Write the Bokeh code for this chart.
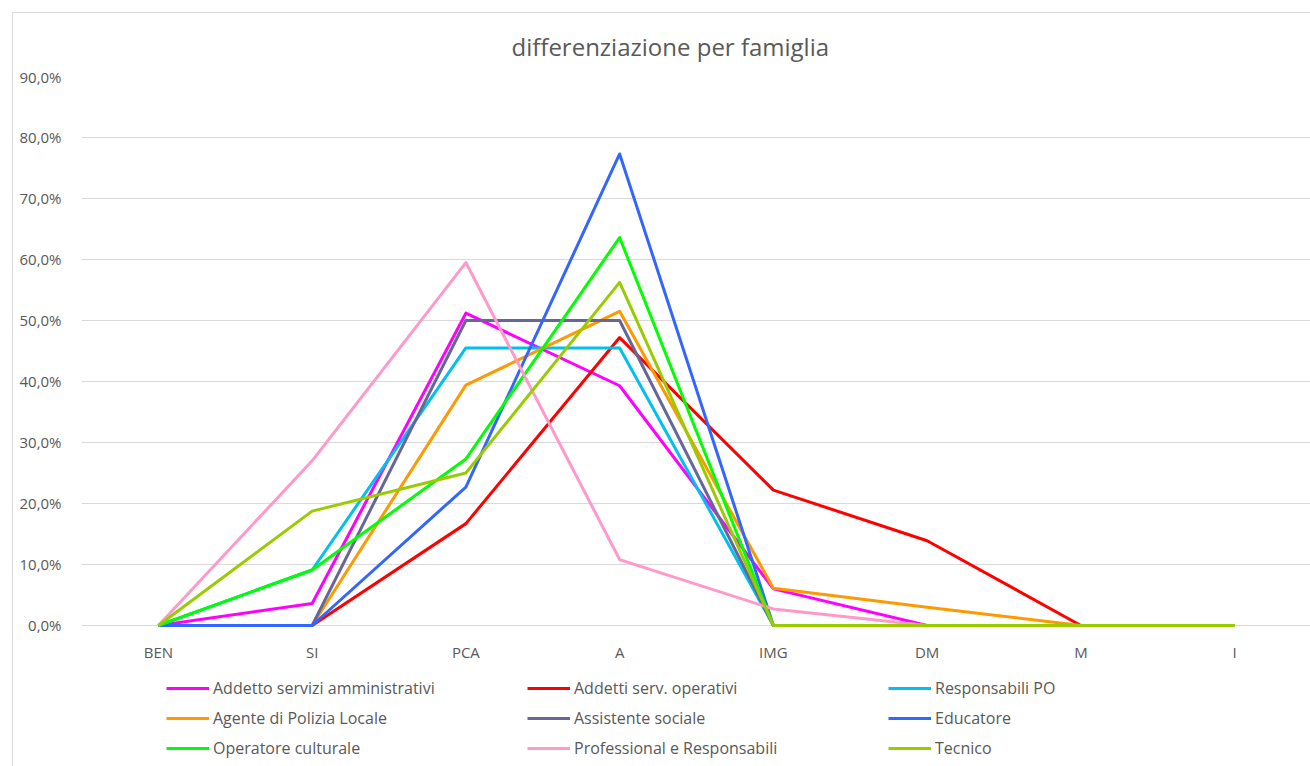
from bokeh.plotting import figure
from bokeh.models import Legend, LegendItem, FixedTicker, Title
from bokeh.embed import file_html
from bokeh.resources import INLINE

categories = ["BEN", "SI", "PCA", "A", "IMG", "DM", "M", "I"]

series_names = [
    "Addetto servizi amministrativi",
    "Addetti serv. operativi",
    "Responsabili PO",
    "Agente di Polizia Locale",
    "Assistente sociale",
    "Educatore",
    "Operatore culturale",
    "Professional e Responsabili",
    "Tecnico",
]

addetto_servizi_amministrativi = [0.0, 0.036, 0.512, 0.393, 0.060, 0.0, 0.0, 0.0]
addetti_serv_operativi = [0.0, 0.0, 0.167, 0.472, 0.222, 0.139, 0.0, 0.0]
responsabili_po = [0.0, 0.091, 0.455, 0.455, 0.0, 0.0, 0.0, 0.0]
agente_polizia_locale = [0.0, 0.0, 0.394, 0.515, 0.061, 0.030, 0.0, 0.0]
assistente_sociale = [0.0, 0.0, 0.500, 0.500, 0.0, 0.0, 0.0, 0.0]
educatore = [0.0, 0.0, 0.227, 0.773, 0.0, 0.0, 0.0, 0.0]
operatore_culturale = [0.0, 0.091, 0.273, 0.636, 0.0, 0.0, 0.0, 0.0]
professional_e_responsabili = [0.0, 0.270, 0.595, 0.108, 0.027, 0.0, 0.0, 0.0]
tecnico = [0.0, 0.1875, 0.250, 0.5625, 0.0, 0.0, 0.0, 0.0]

series_values = [
    addetto_servizi_amministrativi,
    addetti_serv_operativi,
    responsabili_po,
    agente_polizia_locale,
    assistente_sociale,
    educatore,
    operatore_culturale,
    professional_e_responsabili,
    tecnico,
]

series_colors = ["#FF00FF", "#FF0000", "#00C0F0", "#FF9900", "#666699",
                 "#3366FF", "#00FF00", "#FF99CC", "#99CC00"]

y_ticks = [0.0, 0.1, 0.2, 0.3, 0.4, 0.5, 0.6, 0.7, 0.8, 0.9]
y_tick_labels = ["0,0%", "10,0%", "20,0%", "30,0%", "40,0%", "50,0%",
                 "60,0%", "70,0%", "80,0%", "90,0%"]

title_text = "differenziazione per famiglia"

FONT = "Open Sans"
TXT = "#595959"
GRID = "#D9D9D9"

p = figure(
    x_range=categories, y_range=(-0.2328, 0.9),
    frame_width=1230, frame_height=691,
    min_border_left=68, min_border_right=0,
    min_border_top=63, min_border_bottom=0,
    output_backend="svg", toolbar_location=None,
)
p.styles = {"margin-left": "12px", "margin-top": "12px",
            "border-left": "1px solid #D9D9D9", "border-top": "1px solid #D9D9D9"}
p.outline_line_color = None
p.background_fill_color = "white"
p.border_fill_color = "white"

p.add_layout(Title(text=title_text, align="left", offset=430, standoff=28,
                   text_font=FONT, text_font_size="24px",
                   text_font_style="normal", text_color=TXT), "above")

p.xgrid.grid_line_color = None
p.ygrid.grid_line_color = GRID
p.ygrid.grid_line_width = 1
p.yaxis.ticker = FixedTicker(ticks=y_ticks)
p.ygrid.ticker = FixedTicker(ticks=y_ticks)
p.yaxis.major_label_overrides = {t: l for t, l in zip(y_ticks, y_tick_labels)}
p.yaxis.axis_line_color = None
p.yaxis.major_tick_line_color = None
p.yaxis.minor_tick_line_color = None
p.yaxis.major_tick_out = 0
p.yaxis.major_label_standoff = 20
p.yaxis.major_label_text_font = FONT
p.yaxis.major_label_text_font_size = "15px"
p.yaxis.major_label_text_color = TXT

p.xaxis.fixed_location = 0
p.xaxis.axis_line_color = None
p.xaxis.major_tick_line_color = None
p.xaxis.major_tick_out = 0
p.xaxis.major_label_standoff = 17
p.xaxis.major_label_text_font = FONT
p.xaxis.major_label_text_font_size = "15px"
p.xaxis.major_label_text_color = TXT

renderers = []
for name, vals, col in zip(series_names, series_values, series_colors):
    r = p.line(categories, vals, line_color=col, line_width=3, line_join="round")
    renderers.append(r)

items = [LegendItem(label=n, renderers=[r]) for n, r in zip(series_names, renderers)]
leg = Legend(items=items, location=(85, 8), orientation="horizontal", ncols=3,
             padding=0, margin=0, spacing=8,
             glyph_width=43, glyph_height=22, label_height=22, label_width=306,
             label_standoff=4, border_line_color=None,
             background_fill_alpha=0,
             label_text_font=FONT, label_text_font_size="16px",
             label_text_color=TXT)
p.add_layout(leg, "center")

open("out.html", "w").write(file_html(p, INLINE))
